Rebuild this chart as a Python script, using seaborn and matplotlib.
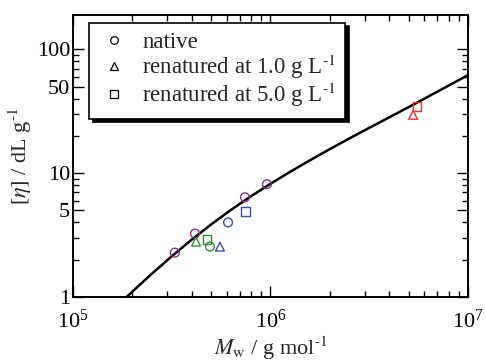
import numpy as np
import pandas as pd
import matplotlib
matplotlib.use("Agg")
import matplotlib.pyplot as plt
from matplotlib.lines import Line2D
from matplotlib.ticker import LogLocator, FixedLocator, FixedFormatter, NullFormatter
import seaborn as sns

# Data
samples = ["native", "native", "native", "native",
           "native", "r1", "r5",
           "native", "r1", "r5",
           "r1", "r5"]
groups = ["purple", "purple", "purple", "purple",
          "green", "green", "green",
          "blue", "blue", "blue",
          "red", "red"]
mw = [3.28e5, 4.15e5, 7.43e5, 9.6e5,
      4.94e5, 4.2e5, 4.77e5,
      6.1e5, 5.55e5, 7.5e5,
      5.27e6, 5.52e6]
eta = [2.28, 3.25, 6.38, 8.14,
       2.55, 2.8, 2.91,
       4.0, 2.55, 4.91,
       29.6, 34.4]

curve_mw = [1.870e5, 2.512e5, 3.162e5, 3.981e5, 5.012e5, 6.310e5, 7.943e5, 1.000e6, 1.259e6,
            1.585e6, 1.995e6, 2.512e6, 3.162e6, 3.981e6, 5.012e6, 7.079e6, 1.000e7]
curve_eta = [1.000, 1.542, 2.128, 2.891, 3.855, 5.047, 6.486, 8.204, 10.26,
             12.71, 15.63, 19.10, 23.23, 28.18, 34.20, 46.00, 62.00]

legend_labels = ["native", "renatured at 1.0 g L$^{\\text{-}1}$", "renatured at 5.0 g L$^{\\text{-}1}$"]
y_tick_vals = [1, 5, 10, 50, 100]
y_tick_labels = ["1", "5", "10", "50", "100"]

sns.set_theme(style="ticks")
plt.rcParams["font.family"] = ["Liberation Serif", "DejaVu Serif"]
plt.rcParams["mathtext.fontset"] = "stix"

df = pd.DataFrame({"Mw": mw, "eta": eta, "sample": samples, "group": groups})
cdf = pd.DataFrame({"Mw": curve_mw, "eta": curve_eta})

palette = {"purple": "#8b2f8b", "green": "#2f8f2f", "blue": "#3a4db3", "red": "#ff2a2a"}
markers = {"native": "o", "r1": "^", "r5": "s"}

fig = plt.figure(figsize=(4.86, 3.63), dpi=100)
ax = fig.add_axes([0.150, 0.182, 0.813, 0.777])

sns.lineplot(data=cdf, x="Mw", y="eta", color="black", lw=1.8, ax=ax, legend=False)
for (s, g), sub in df.groupby(["sample", "group"]):
    sns.scatterplot(data=sub, x="Mw", y="eta", marker=markers[s], s=40,
                    facecolor="none", edgecolor=palette[g], linewidth=1.0,
                    ax=ax, legend=False, zorder=3)

ax.set_xscale("log")
ax.set_yscale("log")
ax.set_xlim(1e5, 1e7)
ax.set_ylim(1, 190)

ax.xaxis.set_major_locator(LogLocator(base=10, numticks=10))
ax.xaxis.set_minor_locator(LogLocator(base=10, subs=np.arange(2, 10), numticks=20))
ax.xaxis.set_minor_formatter(NullFormatter())
ax.yaxis.set_major_locator(FixedLocator(y_tick_vals))
ax.yaxis.set_major_formatter(FixedFormatter(y_tick_labels))
ax.yaxis.set_minor_locator(LogLocator(base=10, subs=np.arange(2, 10), numticks=20))
ax.yaxis.set_minor_formatter(NullFormatter())

ax.tick_params(which="both", direction="in", top=True, right=True, width=1.0,
               colors="black", labelsize=16)
ax.tick_params(axis="x", which="major", pad=9)
ax.tick_params(axis="y", which="major", pad=2)
ax.tick_params(which="major", length=8)
ax.tick_params(which="minor", length=4)
for sp in ax.spines.values():
    sp.set_linewidth(1.4)
    sp.set_color("black")

ax.set_xlabel("$M_{\\rm w}$ / g mol$^{\\text{-}1}$", fontsize=16, labelpad=1)
ax.set_ylabel("[$\\eta$] / dL g$^{\\text{-}1}$", fontsize=16, labelpad=2)

handles = [Line2D([], [], ls="none", marker=m, mfc="none", mec="black", ms=5.5, mew=0.9)
           for m in ["o", "^", "s"]]
leg = ax.legend(handles, legend_labels, loc="upper left", bbox_to_anchor=(0.042, 0.972),
                fontsize=16.5, frameon=True, fancybox=False, handletextpad=0.6,
                labelspacing=0.0, borderpad=0.4, handlelength=1.3, borderaxespad=0,
                shadow={"color": "black", "alpha": 1.0, "ox": 2.5, "oy": -2.5})
leg.get_frame().set_edgecolor("black")
leg.get_frame().set_linewidth(1.2)
leg.get_frame().set_alpha(1.0)

fig.savefig("out.png", dpi=100)
